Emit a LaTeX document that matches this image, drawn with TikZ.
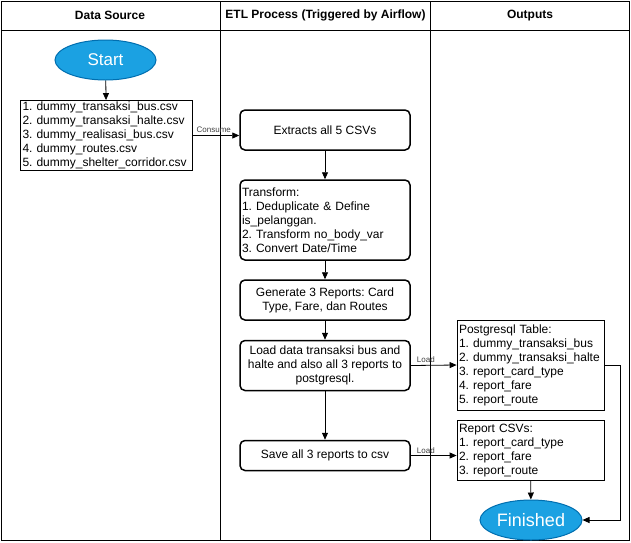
\documentclass[tikz,border=0pt]{standalone}
\usepackage{fontspec}
\setmainfont{Liberation Sans}
\usetikzlibrary{arrows.meta,shapes.geometric}
\definecolor{termfill}{HTML}{1BA1E2}
\definecolor{termdraw}{HTML}{006EAF}
\frenchspacing
\begin{document}
\begin{tikzpicture}[x=1pt,y=-1pt,
  every node/.style={font=\fontsize{12}{14}\selectfont,inner sep=0pt},
  term/.style={ellipse,draw=termdraw,fill=termfill,line width=1pt,text=white},
  proc/.style={draw,rounded corners=5pt,line width=1.5pt,align=center,minimum width=170},
  list/.style={draw,line width=0.8pt,align=left,inner xsep=2pt},
  flow/.style={-{Triangle[length=7pt,width=6pt]},line width=0.8pt},
  tag/.style={font=\fontsize{8}{9}\selectfont,text=black!75}]
\useasboundingbox (0,0) rectangle (631,542);
\draw[line width=0.8pt] (1,1) rectangle (629.5,540.5);
\draw[line width=0.8pt] (1,30.5) -- (629.5,30.5);
\draw[line width=0.8pt] (220.5,1) -- (220.5,540.5);
\draw[line width=0.8pt] (430.5,1) -- (430.5,540.5);
\node[font=\fontsize{12}{14}\selectfont\bfseries] (hsrc) at (110,15.5) {Data Source};
\node[font=\fontsize{12}{14}\selectfont\bfseries] (hetl) at (325.5,15.5) {ETL Process (Triggered by Airflow)};
\node[font=\fontsize{12}{14}\selectfont\bfseries] (hout) at (530,15.5) {Outputs};
\node[term,minimum width=101,minimum height=40,font=\fontsize{17}{20}\selectfont] (start) at (105.5,60) {Start};
\node[list,minimum width=172,minimum height=70,text width=168] (src) at (106.5,135.5) {1. dummy\_transaksi\_bus.csv\\2. dummy\_transaksi\_halte.csv\\3. dummy\_realisasi\_bus.csv\\4. dummy\_routes.csv\\5. dummy\_shelter\_corridor.csv};
\node[proc,minimum height=40] (extract) at (325,130) {Extracts all 5 CSVs};
\node[proc,minimum height=80,align=left,text width=166,inner xsep=2pt] (transform) at (325,220) {Transform:\\1. Deduplicate \& Define\\is\_pelanggan.\\2. Transform no\_body\_var\\3. Convert Date/Time};
\node[proc,minimum height=40] (report) at (325,300) {Generate 3 Reports: Card\\Type, Fare, dan Routes};
\node[proc,minimum height=50] (load) at (325,365.5) {Load data transaksi bus and\\halte and also all 3 reports to\\postgresql.};
\node[proc,minimum height=30] (save) at (325,455.5) {Save all 3 reports to csv};
\node[list,minimum width=147,minimum height=90,text width=143] (pgtable) at (530.5,365) {Postgresql Table:\\1. dummy\_transaksi\_bus\\2. dummy\_transaksi\_halte\\3. report\_card\_type\\4. report\_fare\\5. report\_route};
\node[list,minimum width=147,minimum height=60,text width=143] (csvout) at (530.5,450.5) {Report CSVs:\\1. report\_card\_type\\2. report\_fare\\3. report\_route};
\node[term,minimum width=102,minimum height=40,font=\fontsize{18}{21}\selectfont] (finish) at (531,520) {Finished};
\draw[flow] (start) -- (src);
\draw[flow] (src.east) -- node[tag,pos=0.45,above=3pt] {Consume} (src.east -| extract.west);
\draw[flow] (extract) -- (transform);
\draw[flow] (transform) -- (report);
\draw[flow] (report) -- (load);
\draw[flow] (load) -- (save);
\draw[flow] (load.east) -- node[tag,pos=0.33,above=2pt] {Load} (pgtable.west);
\draw[flow] (save.east) -- node[tag,pos=0.33,above=2pt] {Load} (save.east -| csvout.west);
\draw[flow] (csvout) -- (finish);
\draw[flow] (pgtable.east) -- ++(16,0) |- (finish.east);
\end{tikzpicture}
\end{document}
